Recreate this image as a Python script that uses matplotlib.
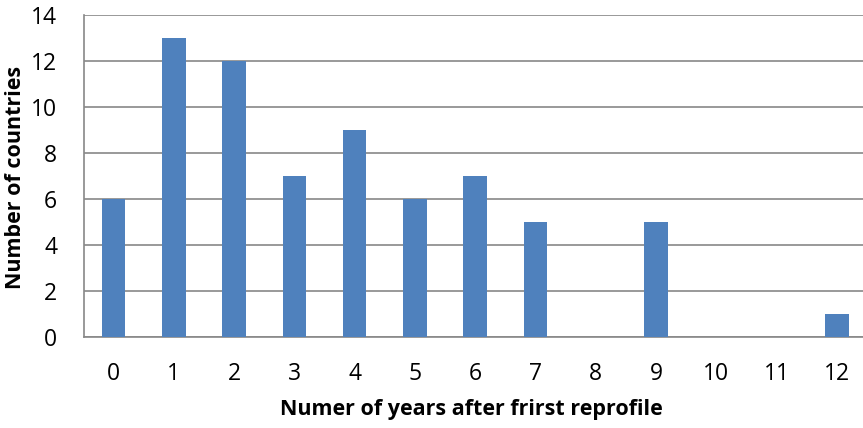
import matplotlib
matplotlib.use("Agg")
import matplotlib.pyplot as plt

years = ["0", "1", "2", "3", "4", "5", "6", "7", "8", "9", "10", "11", "12"]
countries = [6, 13, 12, 7, 9, 6, 7, 5, 0, 5, 0, 0, 1]
y_ticks = [0, 2, 4, 6, 8, 10, 12, 14]

W, H = 863, 428
fig = plt.figure(figsize=(W / 100, H / 100), dpi=100)
left, right, top, bottom = 83.5, 867, 15, 337
ax = fig.add_axes([left / W, 1 - bottom / H, (right - left) / W, (bottom - top) / H])

font = ["Open Sans", "DejaVu Sans"]
grid_c = "#888888"

x = list(range(len(years)))
ax.bar(x, countries, width=0.39, color="#4F81BD", zorder=3)
ax.set_xlim(-0.5, len(years) - 0.5)
ax.set_ylim(0, 14)
ax.set_yticks(y_ticks)
ax.set_xticks(x)
ax.set_xticklabels(years, fontfamily=font, fontsize=16.5)
ax.set_yticklabels([str(v) for v in y_ticks], fontfamily=font, fontsize=16.5)
ax.tick_params(axis="both", length=0)
ax.tick_params(axis="x", pad=18)
ax.tick_params(axis="y", pad=19)
ax.grid(axis="y", color=grid_c, linewidth=1.2, zorder=0)
for s in ["top", "right"]:
    ax.spines[s].set_visible(False)
for s in ["left", "bottom"]:
    ax.spines[s].set_color(grid_c)
    ax.spines[s].set_linewidth(1.2)

fig.text(471 / W, 1 - 410 / H, "Numer of years after frirst reprofile",
         fontfamily=font, fontsize=15.5, fontweight="bold", ha="center", va="center")
fig.text(16 / W, 1 - 177 / H, "Number of countries",
         fontfamily=font, fontsize=15.5, fontweight="bold", ha="center", va="center",
         rotation=90)

fig.savefig("out.png", dpi=100)
